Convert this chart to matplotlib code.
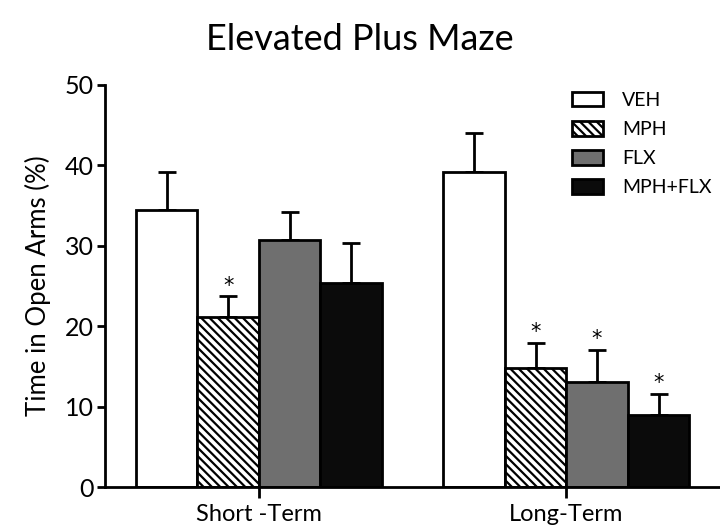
import numpy as np
import matplotlib
matplotlib.use('Agg')
import matplotlib.pyplot as plt
from matplotlib.patches import Patch

plt.rcParams['font.family'] = ['Lato', 'DejaVu Sans']
plt.rcParams['hatch.linewidth'] = 1.6

# Data
groups = ['Short -Term', 'Long-Term']
treatments = ['VEH', 'MPH', 'FLX', 'MPH+FLX']
means = {
    'VEH': [34.4, 39.2],
    'MPH': [21.1, 14.8],
    'FLX': [30.7, 13.1],
    'MPH+FLX': [25.4, 9.0],
}
sem = {
    'VEH': [4.7, 4.8],
    'MPH': [2.6, 3.1],
    'FLX': [3.5, 3.9],
    'MPH+FLX': [4.9, 2.6],
}
signif = {
    'VEH': [False, False],
    'MPH': [True, True],
    'FLX': [False, True],
    'MPH+FLX': [False, True],
}

colors = {'VEH': 'white', 'MPH': 'white', 'FLX': '#6f6f6f', 'MPH+FLX': '#0b0b0b'}
hatches = {'VEH': None, 'MPH': '\\\\\\\\', 'FLX': None, 'MPH+FLX': None}

fig = plt.figure(figsize=(7.2, 5.26), dpi=100)
ax = fig.add_axes([0.146, 0.074, 0.854, 0.765])

x = np.arange(len(groups))
width = 0.2
offsets = [-0.3, -0.1, 0.1, 0.3]

for t, off in zip(treatments, offsets):
    ax.bar(x + off, means[t], width, color=colors[t], edgecolor='black',
           linewidth=2, hatch=hatches[t], zorder=2)
    ax.errorbar(x + off, means[t], yerr=[np.zeros(len(groups)), sem[t]],
                fmt='none', ecolor='black', elinewidth=2, capsize=6.5,
                capthick=2, zorder=1)
    for xi, m, s, sig in zip(x + off, means[t], sem[t], signif[t]):
        if sig:
            ax.text(xi, m + s + 0.1, '*', ha='center', va='bottom',
                    fontsize=15, fontfamily='DejaVu Sans')

ax.set_xlim(-0.5, 1.5)
ax.set_ylim(0, 50)
ax.set_yticks([0, 10, 20, 30, 40, 50])
ax.set_xticks(x)
ax.set_xticklabels(groups)
ax.spines['top'].set_visible(False)
ax.spines['right'].set_visible(False)
ax.spines['left'].set_linewidth(2)
ax.spines['bottom'].set_linewidth(2)
ax.tick_params(axis='y', length=6, width=2, labelsize=18, pad=2)
ax.tick_params(axis='x', length=8, width=2, labelsize=17, pad=4)
ax.set_ylabel('Time in Open Arms (%)', fontsize=18.5, labelpad=10)

fig.text(0.5, 0.925, 'Elevated Plus Maze', ha='center', va='center', fontsize=26)

handles = [Patch(facecolor=colors[t], edgecolor='black', linewidth=2,
                 hatch=hatches[t], label=t) for t in treatments]
ax.legend(handles=handles, loc='upper right', bbox_to_anchor=(1.015, 1.025),
          frameon=False, fontsize=14, handlelength=1.6, handleheight=0.75,
          labelspacing=0.62, handletextpad=1.0)

fig.savefig('out.png', dpi=100)
